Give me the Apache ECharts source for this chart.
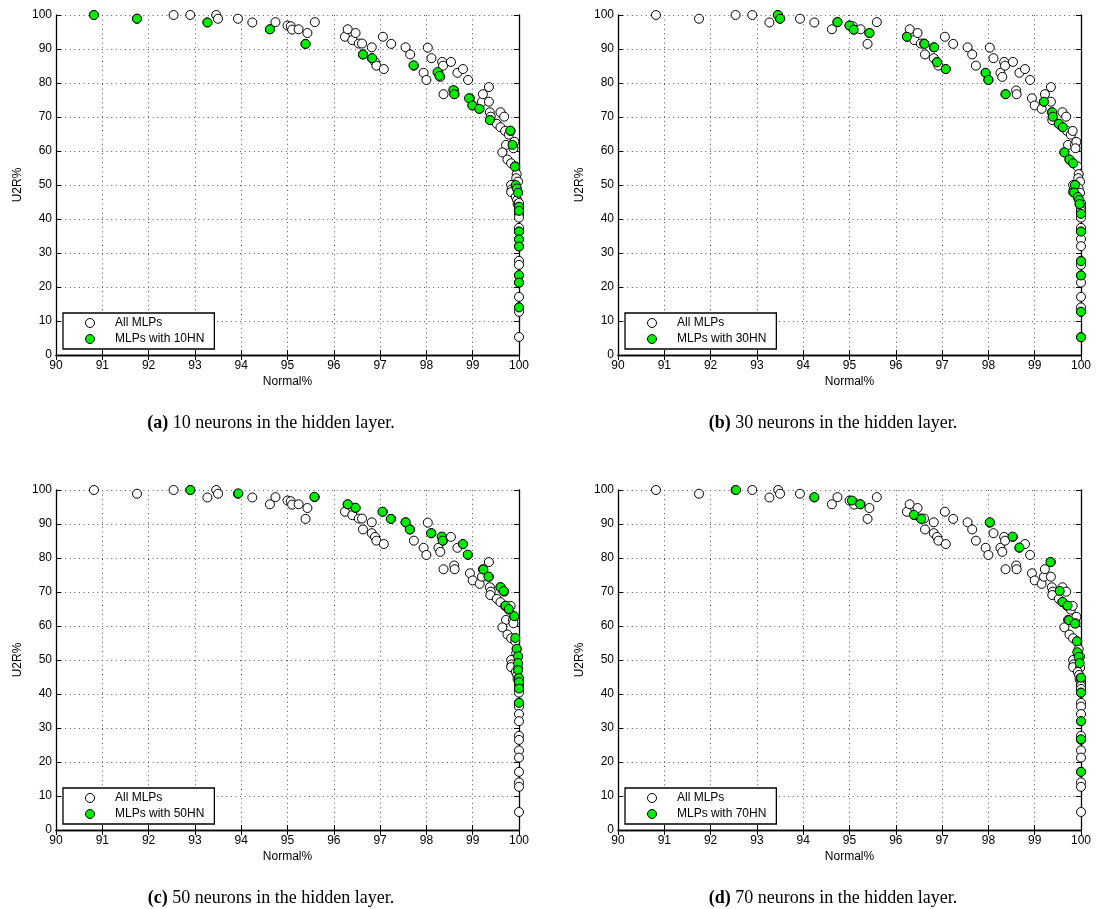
<!DOCTYPE html>
<html><head><meta charset="utf-8">
<script src="https://cdn.jsdelivr.net/npm/echarts@6/dist/echarts.min.js"></script>
<style>html,body{margin:0;padding:0;background:#fff}#c{width:1097px;height:909px}</style>
</head><body><div id="c"></div>
<script>
// x-axis ticks (Normal%) and y-axis ticks (U2R%)
const xTicks = [90, 91, 92, 93, 94, 95, 96, 97, 98, 99, 100];
const yTicks = [0, 10, 20, 30, 40, 50, 60, 70, 80, 90, 100];

// All MLPs: [Normal%, U2R%]
const allMLPs = [
  [90.82,100],[91.75,98.9],[92.54,100],[92.90,100],[93.27,97.8],[93.46,100],[93.50,98.9],[93.93,98.9],[94.24,97.8],[94.62,95.8],[94.74,97.9],
  [95.00,96.9],[95.07,96.7],[95.10,95.7],[95.24,95.8],[95.43,94.7],[95.39,91.5],[95.59,97.9],
  [96.24,93.6],[96.30,95.8],[96.40,92.6],[96.47,94.7],[96.54,91.6],[96.61,91.6],[96.63,88.4],[96.82,90.5],[96.82,87.3],[96.89,86.2],[96.92,85.1],
  [97.06,93.6],[97.08,84.1],[97.24,91.5],[97.55,90.5],[97.65,88.4],[97.73,85.1],
  [97.94,83.0],[98.00,80.9],[98.03,90.4],[98.11,87.3],[98.26,83.0],[98.30,81.8],[98.34,86.2],[98.36,85.1],[98.37,76.7],[98.53,86.2],
  [98.60,77.8],[98.61,76.7],[98.67,83.0],[98.79,84.1],[98.90,80.9],[98.94,75.5],[99.00,73.4],[99.15,72.4],[99.20,74.5],[99.22,76.7],
  [99.35,78.8],[99.35,74.5],[99.37,71.4],[99.39,70.1],[99.38,69.1],[99.52,68.0],[99.60,67.0],[99.60,71.4],[99.68,70.1],[99.70,65.9],
  [99.78,64.8],[99.82,65.9],[99.72,61.8],[99.87,61.8],[99.90,62.7],[99.88,60.8],[99.64,59.6],[99.75,57.5],[99.83,56.4],[99.92,55.5],
  [99.95,53.2],[99.94,52.0],[99.98,51.0],[99.88,50.0],[99.83,50.0],[99.95,49.0],[99.84,48.7],[99.83,47.9],[99.98,47.7],[99.93,46.5],
  [99.96,45.6],[99.97,44.4],[100,44.7],[100,43.6],[100,43.0],[100,42.4],[100,41.5],[100,40.4],[100,37.4],[100,36.3],[100,34.1],
  [100,32.0],[100,27.7],[100,26.5],[100,23.4],[100,21.3],[100,17.1],[100,14.0],[100,12.7],[100,5.3]
];

// MLPs with 10 hidden neurons
const mlp10HN = [
  [90.82,100],[91.75,98.9],[93.27,97.8],[94.62,95.8],[95.39,91.5],[96.63,88.4],[96.83,87.3],[97.72,85.2],[98.24,83.2],[98.28,82.1],
  [98.58,77.9],[98.60,76.7],[98.92,75.5],[98.99,73.4],[99.14,72.4],[99.37,69.1],[99.81,66.0],[99.86,61.8],[99.91,55.4],[99.93,50.0],
  [99.95,49.0],[99.98,47.7],[100,43.6],[100,42.4],[100,36.3],[100,34.0],[100,31.9],[100,23.5],[100,21.3],[100,14.0]
];

// MLPs with 30 hidden neurons
const mlp30HN = [
  [93.45,100],[93.50,98.9],[94.74,97.9],[95.00,96.9],[95.09,95.7],[95.43,94.7],[96.24,93.6],[96.62,91.5],[96.83,90.5],[96.89,86.1],
  [97.08,84.1],[97.94,83.0],[98.00,80.9],[98.37,76.7],[99.20,74.5],[99.38,71.4],[99.39,70.1],[99.52,68.0],[99.61,67.0],[99.64,59.6],
  [99.75,57.5],[99.83,56.4],[99.87,50.0],[99.85,47.8],[99.93,46.5],[99.96,45.6],[99.97,44.4],[100,41.5],[100,36.3],[100,27.6],
  [100,23.4],[100,12.7],[100,5.2]
];

// MLPs with 50 hidden neurons
const mlp50HN = [
  [92.90,100],[93.94,99.0],[95.58,98.0],[96.30,95.8],[96.47,94.8],[97.05,93.6],[97.23,91.5],[97.55,90.5],[97.64,88.4],[98.10,87.3],
  [98.33,86.3],[98.35,85.1],[98.79,84.1],[98.89,81.0],[99.23,76.6],[99.34,74.5],[99.60,71.4],[99.67,70.3],[99.71,66.0],[99.78,65.0],
  [99.90,62.9],[99.92,56.5],[99.95,53.3],[99.98,51.1],[99.98,49.1],[99.98,47.0],[100,44.7],[100,43.5],[100,41.6],[100,37.4]
];

// MLPs with 70 hidden neurons
const mlp70HN = [
  [92.55,100],[94.24,97.9],[95.05,96.9],[95.23,95.8],[96.39,92.7],[96.55,91.5],[98.03,90.5],[98.52,86.3],[98.67,83.1],[99.34,78.8],
  [99.54,70.3],[99.60,67.1],[99.71,66.0],[99.74,61.7],[99.87,60.7],[99.91,55.5],[99.92,52.3],[99.95,50.9],[99.97,49.1],[100,44.8],
  [100,40.4],[100,32.0],[100,26.7],[100,17.1]
];

const seriesNames = ['MLPs with 10HN', 'MLPs with 30HN', 'MLPs with 50HN', 'MLPs with 70HN'];
const captionTags = ['(a)', '(b)', '(c)', '(d)'];
const captionTexts = [' 10 neurons in the hidden layer.', ' 30 neurons in the hidden layer.', ' 50 neurons in the hidden layer.', ' 70 neurons in the hidden layer.'];
const subsets = [mlp10HN, mlp30HN, mlp50HN, mlp70HN];

const SANS = '"Liberation Sans", Arial, Helvetica, sans-serif';
const SERIF = '"Liberation Serif", "Times New Roman", serif';
const GREEN = '#00ee00';

const layout = [
  {left: 56, top: 15, capX: 271},
  {left: 618, top: 15, capX: 833},
  {left: 56, top: 490, capX: 271},
  {left: 618, top: 490, capX: 833}
];
const W = 463, H = 340;

const grid = [], xAxis = [], yAxis = [], series = [], legend = [], graphic = [];
layout.forEach((p, i) => {
  grid.push({left: p.left, top: p.top, width: W, height: H, show: false});
  const line = {show: true, lineStyle: {color: '#000', width: 1.3}};
  const tick = {show: true, inside: true, length: 5, lineStyle: {color: '#000', width: 1}};
  const split = {show: true, lineStyle: {color: '#555', width: 1, type: [1, 3.6]}};
  xAxis.push({
    gridIndex: i, type: 'value', min: xTicks[0], max: xTicks[xTicks.length - 1], interval: 1,
    name: 'Normal%', nameLocation: 'middle', nameGap: 21,
    nameTextStyle: {fontSize: 12, color: '#000', fontFamily: SANS},
    axisLine: line, axisTick: tick, splitLine: split,
    axisLabel: {color: '#000', fontSize: 12, margin: 5, fontFamily: SANS}
  });
  xAxis.push({
    gridIndex: i, type: 'value', position: 'top', min: xTicks[0], max: xTicks[xTicks.length - 1], interval: 1,
    axisLine: line, axisTick: tick, splitLine: {show: false}, axisLabel: {show: false}
  });
  yAxis.push({
    gridIndex: i, type: 'value', min: yTicks[0], max: yTicks[yTicks.length - 1], interval: 10,
    name: 'U2R%', nameLocation: 'middle', nameGap: 32,
    nameTextStyle: {fontSize: 12, color: '#000', fontFamily: SANS},
    axisLine: line, axisTick: tick, splitLine: split,
    axisLabel: {color: '#000', fontSize: 12, margin: 4, fontFamily: SANS}
  });
  yAxis.push({
    gridIndex: i, type: 'value', position: 'right', min: yTicks[0], max: yTicks[yTicks.length - 1], interval: 10,
    axisLine: line, axisTick: tick, splitLine: {show: false}, axisLabel: {show: false}
  });
  series.push({
    name: 'All MLPs', type: 'scatter', xAxisIndex: 2 * i, yAxisIndex: 2 * i,
    data: allMLPs, symbol: 'circle', symbolSize: 9, clip: false, z: 3,
    itemStyle: {color: '#fff', borderColor: '#000', borderWidth: 1, opacity: 1},
    emphasis: {disabled: true}
  });
  series.push({
    name: seriesNames[i], type: 'scatter', xAxisIndex: 2 * i, yAxisIndex: 2 * i,
    data: subsets[i], symbol: 'circle', symbolSize: 9, clip: false, z: 4,
    itemStyle: {color: GREEN, borderColor: '#000', borderWidth: 1, opacity: 1},
    emphasis: {disabled: true}
  });
  legend.push({
    left: p.left + 7, top: p.top + 298, orient: 'vertical',
    data: ['All MLPs', seriesNames[i]], icon: 'circle',
    itemWidth: 40, itemHeight: 9, itemGap: 4, padding: [4, 10, 4, 22],
    borderColor: '#000', borderWidth: 1.3, backgroundColor: '#fff',
    selectedMode: false,
    itemStyle: {borderColor: '#000', borderWidth: 1},
    textStyle: {fontSize: 12, color: '#000', fontFamily: SANS}
  });
  graphic.push({
    type: 'text', x: p.capX, y: p.top + 408,
    style: {
      text: '{b|' + captionTags[i] + '}' + captionTexts[i],
      align: 'center', verticalAlign: 'middle',
      fontSize: 18, fontFamily: SERIF, fill: '#000',
      rich: {b: {fontSize: 18, fontFamily: SERIF, fontWeight: 'bold', fill: '#000'}}
    }
  });
});

const chart = echarts.init(document.getElementById('c'));
chart.setOption({
  animation: false,
  backgroundColor: '#fff',
  grid, xAxis, yAxis, series, legend, graphic
});
</script></body></html>
